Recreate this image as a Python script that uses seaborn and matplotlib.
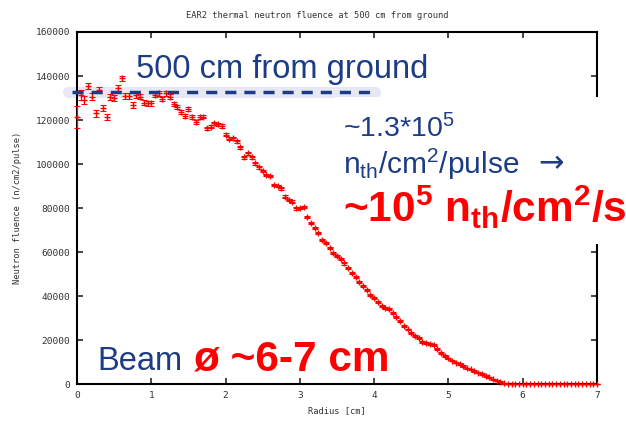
import matplotlib
matplotlib.use("Agg")
import matplotlib.pyplot as plt
from matplotlib.patches import Rectangle
import seaborn as sns
import pandas as pd

# Data (radius in cm, fluence in n/cm2/pulse)
radius = [round(0.05 * i, 2) for i in range(141)]
fluence = [
    121500, 131400, 129000, 135500, 130600, 123000, 133600, 125300, 121500, 130300,
    129900, 134400, 139000, 130900, 130900, 126800, 131400, 130600, 127900, 127600,
    127600, 131400, 132100, 129500, 132100, 130600, 127300, 125800, 123800, 122000,
    125000, 121500, 119200, 121200, 121500, 116200, 117000, 118500, 118000, 117300,
    113400, 111400, 111700, 110300, 107600, 103000, 104900, 103000, 100300, 98500,
    96800, 95000, 94500, 90500, 90000, 88900, 85100, 83600, 82900, 79900,
    79900, 80300, 76000, 73000, 70800, 68500, 65500, 64200, 61700, 59400,
    58200, 56700, 54800, 52600, 50600, 48800, 46500, 44500, 42700, 40500,
    39000, 37200, 35300, 34600, 34200, 32200, 30300, 28800, 26400, 24800,
    23300, 21800, 20800, 19200, 18500, 18200, 17700, 15800, 14200, 12700,
    11700, 10600, 9700, 9100, 8200, 7100, 6700, 5900, 5100, 4500,
    3600, 3000, 2100, 1500, 1000, 300, 100, 0, 0, 0,
    0, 0, 0, 0, 0, 0, 0, 0, 0, 0,
    0, 0, 0, 0, 0, 0, 0, 0, 0, 0,
    0,
]
errors = [
    5000, 2200, 1800, 1500, 1500, 1500, 1500, 1400, 1400, 1300,
    1300, 1300, 1200, 1200, 1200, 1200, 1200, 1100, 1100, 1100,
    1100, 1000, 1000, 1000, 1000, 1000, 1000, 900, 900, 900,
    900, 900, 900, 900, 800, 800, 800, 800, 800, 800,
    700, 700, 700, 700, 700, 700, 700, 700, 700, 700,
    600, 600, 600, 600, 600, 600, 600, 600, 600, 600,
    500, 500, 500, 500, 500, 500, 500, 500, 500, 500,
    500, 500, 500, 500, 500, 500, 500, 500, 500, 500,
    400, 400, 400, 400, 400, 400, 400, 400, 400, 400,
    400, 400, 400, 400, 400, 400, 400, 400, 400, 400,
    300, 300, 300, 300, 300, 300, 300, 300, 300, 300,
    300, 300, 300, 300, 300, 200, 100, 0, 0, 0,
    0, 0, 0, 0, 0, 0, 0, 0, 0, 0,
    0, 0, 0, 0, 0, 0, 0, 0, 0, 0,
    0,
]
x_ticks = [0, 1, 2, 3, 4, 5, 6, 7]
y_ticks = [0, 20000, 40000, 60000, 80000, 100000, 120000, 140000, 160000]
ref_level = 132500

df = pd.DataFrame({"radius": radius, "fluence": fluence, "err": errors})

sns.set_style("ticks")
plt.rcParams["font.family"] = ["Liberation Sans", "DejaVu Sans"]
plt.rcParams["mathtext.fontset"] = "custom"
plt.rcParams["mathtext.rm"] = "Liberation Sans"
plt.rcParams["mathtext.bf"] = "Liberation Sans:bold"
plt.rcParams["mathtext.it"] = "Liberation Sans:italic"

W, H = 626, 423
fig = plt.figure(figsize=(W / 100, H / 100), dpi=100)
ax = fig.add_axes([77 / W, 1 - 384 / H, 520 / W, 352 / H])

blue = "#1c3c84"
red = "#ff0000"
mono = "DejaVu Sans Mono"

# soft glow behind the dashed "500 cm" line (below the points)
ax.plot([-0.12, 4.01], [ref_level, ref_level], color="#e6e9f3", lw=8,
        solid_capstyle="round", clip_on=False, zorder=2)

# data points with error bars
eb = ax.errorbar(df["radius"], df["fluence"], yerr=df["err"], fmt="none",
                 ecolor=red, elinewidth=0.8, capsize=2, capthick=0.8, zorder=3)
for art in eb.lines[1] + eb.lines[2]:
    art.set_clip_on(False)
sns.scatterplot(data=df, x="radius", y="fluence", marker="+", color=red,
                s=14, linewidth=1.0, ax=ax, zorder=4, legend=False, clip_on=False)

ax.set_xlim(0, 7)
ax.set_ylim(0, 160000)
ax.set_xticks(x_ticks)
ax.set_yticks(y_ticks)
ax.set_xticklabels([str(t) for t in x_ticks], fontfamily=mono, fontsize=6.8, color="#333333")
ax.set_yticklabels([str(t) for t in y_ticks], fontfamily=mono, fontsize=6.8, color="#333333")
ax.tick_params(direction="in", length=4, width=1.2, top=True, right=True, pad=5)
ax.set_xlabel("")
ax.set_ylabel("")
for sp in ax.spines.values():
    sp.set_visible(True)
    sp.set_linewidth(1.5)
    sp.set_color("black")

# dashed line on top of the points
ax.plot([-0.07, 3.97], [ref_level, ref_level], color=blue, lw=2.5,
        dashes=(3.2, 2.3), clip_on=False, zorder=6)

# gnuplot texts
fig.text(317 / W, 1 - 15 / H, "EAR2 thermal neutron fluence at 500 cm from ground",
         fontfamily=mono, fontsize=6.3, ha="center", va="center", color="#333333")
fig.text(337 / W, 1 - 411 / H, "Radius [cm]", fontfamily=mono, fontsize=6.3,
         ha="center", va="center", color="#333333")
fig.text(18 / W, 1 - 208 / H, "Neutron fluence (n/cm2/pulse)", fontfamily=mono,
         fontsize=6.3, rotation=90, ha="center", va="center", color="#333333")

# white box hiding the right border behind the annotation
fig.patches.append(Rectangle((335 / W, 1 - 244 / H), 1 - 335 / W, 147 / H,
                             transform=fig.transFigure, facecolor="white",
                             edgecolor="none", zorder=10))

# slide annotations
fig.text(136 / W, 1 - 78 / H, "500 cm from ground", fontsize=23.5, color=blue,
         ha="left", va="baseline", zorder=11)
fig.text(343 / W, 1 - 137 / H, r"~1.3*10$^{5}$", fontsize=20.5, color=blue,
         ha="left", va="baseline", zorder=11)
fig.text(343 / W, 1 - 174 / H, r"n$_{\mathrm{th}}$/cm$^{2}$/pulse", fontsize=21.5,
         color=blue, ha="left", va="baseline", zorder=11)
fig.text(538 / W, 1 - 172 / H, "→", fontsize=22, color=blue, fontfamily="DejaVu Sans",
         ha="left", va="baseline", zorder=11)
fig.text(343 / W, 1 - 222 / H, r"~10$^{\mathbf{5}}$ n$_{\mathbf{th}}$/cm$^{\mathbf{2}}$/s",
         fontsize=30.5, color=red, fontweight="bold", ha="left", va="baseline", zorder=11)
fig.text(97 / W, 1 - 370 / H, "Beam", fontsize=23.5, color=blue,
         ha="left", va="baseline", zorder=11)
fig.text(193 / W, 1 - 370 / H, "ø ~6-7 cm", fontsize=30.5, color=red,
         fontweight="bold", ha="left", va="baseline", zorder=11)

fig.savefig("out.png", dpi=100)
